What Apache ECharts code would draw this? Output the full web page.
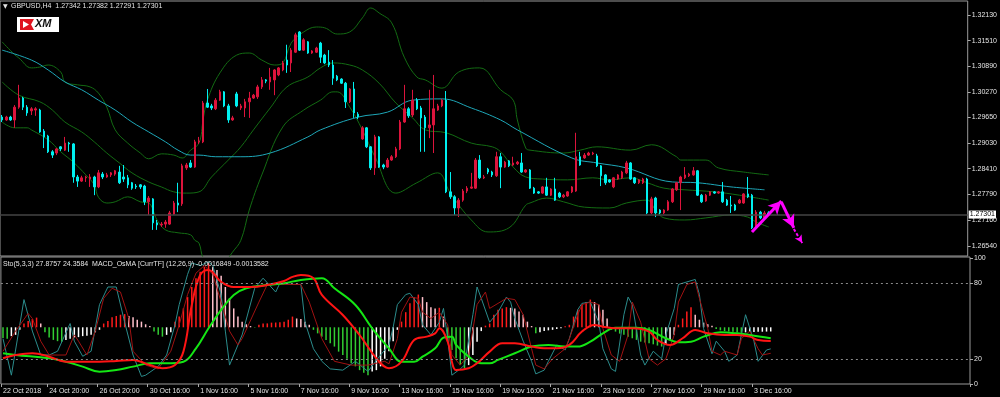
<!DOCTYPE html>
<html>
<head>
<meta charset="utf-8">
<script src="https://cdn.jsdelivr.net/npm/echarts@6/dist/echarts.min.js"></script>
<style>
	html, body { margin: 0; padding: 0; background: #000; }
	#chart { width: 1000px; height: 397px; }
</style>
</head>
<body>
<div id="chart"></div>
<script>
// GBPUSD H4 candles, index 0 = first visible bar
var opens = [
	1.2966, 1.2959, 1.2966, 1.2959, 1.2990, 1.3012, 1.2990, 1.2981, 1.2983, 1.2983,
	1.2932, 1.2920, 1.2882, 1.2879, 1.2894, 1.2886, 1.2903, 1.2901, 1.2821, 1.2811,
	1.2819, 1.2816, 1.2821, 1.2797, 1.2828, 1.2821, 1.2826, 1.2828, 1.2833, 1.2821,
	1.2819, 1.2807, 1.2799, 1.2802, 1.2799, 1.2761, 1.2768, 1.2710, 1.2705, 1.2707,
	1.2707, 1.2731, 1.2758, 1.2756, 1.2843, 1.2855, 1.2845, 1.2906, 1.2906, 1.3000,
	1.2993, 1.2986, 1.3007, 1.3027, 1.2993, 1.2959, 1.3022, 1.2988, 1.2988, 1.3003,
	1.3012, 1.3015, 1.3039, 1.3056, 1.3051, 1.3056, 1.3068, 1.3080, 1.3104, 1.3097,
	1.3123, 1.3172, 1.3128, 1.3148, 1.3121, 1.3123, 1.3145, 1.3116, 1.3099, 1.3092,
	1.3065, 1.3058, 1.3048, 1.3003, 1.3034, 1.2973, 1.2913, 1.2940, 1.2894, 1.2843,
	1.2918, 1.2850, 1.2845, 1.2862, 1.2870, 1.2889, 1.2954, 1.2986, 1.2971, 1.3007,
	1.2988, 1.2966, 1.2940, 1.2947, 1.2983, 1.2993, 1.3007, 1.2785, 1.2773, 1.2746,
	1.2765, 1.2787, 1.2794, 1.2794, 1.2862, 1.2819, 1.2840, 1.2833, 1.2824, 1.2870,
	1.2845, 1.2860, 1.2850, 1.2853, 1.2855, 1.2833, 1.2838, 1.2794, 1.2785, 1.2782,
	1.2797, 1.2777, 1.2792, 1.2782, 1.2773, 1.2775, 1.2785, 1.2787, 1.2870, 1.2867,
	1.2874, 1.2877, 1.2872, 1.2848, 1.2826, 1.2814, 1.2797, 1.2816, 1.2819, 1.2831,
	1.2855, 1.2819, 1.2807, 1.2807, 1.2816, 1.2734, 1.2770, 1.2741, 1.2734, 1.2741,
	1.2761, 1.2790, 1.2807, 1.2819, 1.2824, 1.2826, 1.2836, 1.2777, 1.2763, 1.2777,
	1.2785, 1.2782, 1.2785, 1.2765, 1.2753, 1.2753, 1.2758, 1.2758, 1.2780, 1.2777,
	1.2698, 1.2736, 1.2722, 1.27342
];
var closes = [
	1.2959, 1.2966, 1.2959, 1.2990, 1.3012, 1.2990, 1.2976, 1.2986, 1.2986, 1.2930,
	1.2918, 1.2882, 1.2874, 1.2889, 1.2889, 1.2903, 1.2901, 1.2821, 1.2811, 1.2819,
	1.2821, 1.2821, 1.2797, 1.2831, 1.2821, 1.2826, 1.2831, 1.2836, 1.2807, 1.2816,
	1.2802, 1.2794, 1.2797, 1.2797, 1.2761, 1.2770, 1.2710, 1.2705, 1.2707, 1.2712,
	1.2734, 1.2758, 1.2753, 1.2848, 1.2850, 1.2845, 1.2906, 1.2908, 1.3000, 1.2990,
	1.2988, 1.3007, 1.3027, 1.2993, 1.2959, 1.2964, 1.2993, 1.2993, 1.3003, 1.3012,
	1.3019, 1.3039, 1.3056, 1.3053, 1.3063, 1.3080, 1.3085, 1.3097, 1.3092, 1.3128,
	1.3165, 1.3128, 1.3153, 1.3121, 1.3126, 1.3133, 1.3111, 1.3097, 1.3092, 1.3060,
	1.3056, 1.3048, 1.3003, 1.3034, 1.2976, 1.2966, 1.2940, 1.2894, 1.2843, 1.2918,
	1.2845, 1.2845, 1.2862, 1.2870, 1.2889, 1.2954, 1.2986, 1.2969, 1.3007, 1.2986,
	1.2964, 1.2940, 1.2947, 1.2986, 1.2993, 1.3007, 1.2785, 1.2773, 1.2746, 1.2765,
	1.2787, 1.2794, 1.2797, 1.2862, 1.2819, 1.2821, 1.2833, 1.2826, 1.2870, 1.2845,
	1.2857, 1.2848, 1.2855, 1.2857, 1.2833, 1.2838, 1.2794, 1.2782, 1.2782, 1.2797,
	1.2777, 1.2792, 1.2765, 1.2773, 1.2777, 1.2785, 1.2797, 1.2870, 1.2850, 1.2874,
	1.2879, 1.2879, 1.2848, 1.2824, 1.2807, 1.2809, 1.2819, 1.2826, 1.2833, 1.2855,
	1.2816, 1.2807, 1.2814, 1.2816, 1.2734, 1.2768, 1.2734, 1.2734, 1.2741, 1.2761,
	1.2792, 1.2807, 1.2821, 1.2826, 1.2828, 1.2836, 1.2777, 1.2761, 1.2777, 1.2785,
	1.2782, 1.2785, 1.2761, 1.2753, 1.2751, 1.2741, 1.2765, 1.2780, 1.2773, 1.2698,
	1.2736, 1.2722, 1.2734, 1.27301
];
var lows = [
	1.2954, 1.2957, 1.2957, 1.2940, 1.2986, 1.2983, 1.2969, 1.2971, 1.2969, 1.2928,
	1.2891, 1.2879, 1.2867, 1.2874, 1.2884, 1.2884, 1.2882, 1.2807, 1.2797, 1.2809,
	1.2809, 1.2797, 1.2777, 1.2794, 1.2816, 1.2819, 1.2821, 1.2824, 1.2804, 1.2809,
	1.2794, 1.2790, 1.2792, 1.2792, 1.2753, 1.2729, 1.2693, 1.2693, 1.2700, 1.2698,
	1.2705, 1.2729, 1.2736, 1.2751, 1.2838, 1.2843, 1.2843, 1.2901, 1.2903, 1.2988,
	1.2983, 1.2983, 1.3005, 1.2990, 1.2952, 1.2957, 1.2990, 1.2983, 1.2966, 1.2964,
	1.3010, 1.3010, 1.3034, 1.3048, 1.3032, 1.3019, 1.3065, 1.3077, 1.3073, 1.3075,
	1.3121, 1.3126, 1.3126, 1.3119, 1.3119, 1.3121, 1.3097, 1.3094, 1.3087, 1.3044,
	1.3053, 1.3046, 1.2988, 1.3000, 1.2964, 1.2961, 1.2911, 1.2891, 1.2838, 1.2826,
	1.2843, 1.2840, 1.2843, 1.2860, 1.2867, 1.2886, 1.2952, 1.2964, 1.2966, 1.2983,
	1.2882, 1.2882, 1.2915, 1.2879, 1.2981, 1.2990, 1.2782, 1.2768, 1.2729, 1.2724,
	1.2761, 1.2782, 1.2792, 1.2792, 1.2816, 1.2816, 1.2828, 1.2821, 1.2821, 1.2794,
	1.2843, 1.2845, 1.2848, 1.2850, 1.2831, 1.2831, 1.2792, 1.2780, 1.2780, 1.2780,
	1.2775, 1.2775, 1.2763, 1.2770, 1.2770, 1.2773, 1.2782, 1.2785, 1.2848, 1.2865,
	1.2872, 1.2874, 1.2845, 1.2799, 1.2802, 1.2807, 1.2794, 1.2814, 1.2816, 1.2828,
	1.2814, 1.2804, 1.2804, 1.2804, 1.2731, 1.2731, 1.2724, 1.2731, 1.2731, 1.2739,
	1.2758, 1.2787, 1.2741, 1.2816, 1.2821, 1.2824, 1.2775, 1.2758, 1.2761, 1.2775,
	1.2780, 1.2780, 1.2758, 1.2751, 1.2734, 1.2739, 1.2756, 1.2756, 1.2770, 1.2695,
	1.2695, 1.2719, 1.2719, 1.27291
];
var highs = [
	1.2971, 1.2969, 1.2969, 1.2995, 1.3044, 1.3015, 1.2995, 1.2990, 1.2990, 1.2986,
	1.2937, 1.2923, 1.2886, 1.2891, 1.2896, 1.2918, 1.2906, 1.2903, 1.2826, 1.2824,
	1.2824, 1.2828, 1.2824, 1.2838, 1.2833, 1.2831, 1.2833, 1.2838, 1.2848, 1.2850,
	1.2826, 1.2809, 1.2804, 1.2804, 1.2802, 1.2775, 1.2770, 1.2717, 1.2712, 1.2717,
	1.2739, 1.2763, 1.2807, 1.2853, 1.2855, 1.2862, 1.2911, 1.2918, 1.3005, 1.3034,
	1.2998, 1.3012, 1.3032, 1.3029, 1.2998, 1.2969, 1.3027, 1.2998, 1.3010, 1.3027,
	1.3022, 1.3044, 1.3063, 1.3058, 1.3085, 1.3082, 1.3087, 1.3102, 1.3141, 1.3133,
	1.3170, 1.3174, 1.3157, 1.3150, 1.3128, 1.3136, 1.3148, 1.3119, 1.3128, 1.3104,
	1.3068, 1.3060, 1.3051, 1.3036, 1.3051, 1.2978, 1.2944, 1.2942, 1.2896, 1.2923,
	1.2920, 1.2853, 1.2867, 1.2874, 1.2894, 1.2959, 1.3044, 1.2990, 1.3032, 1.3012,
	1.2993, 1.2971, 1.3032, 1.3068, 1.2998, 1.3010, 1.3029, 1.2833, 1.2777, 1.2770,
	1.2792, 1.2799, 1.2831, 1.2867, 1.2874, 1.2826, 1.2843, 1.2836, 1.2882, 1.2879,
	1.2860, 1.2862, 1.2870, 1.2860, 1.2879, 1.2840, 1.2840, 1.2797, 1.2787, 1.2799,
	1.2819, 1.2794, 1.2819, 1.2785, 1.2780, 1.2787, 1.2799, 1.2928, 1.2882, 1.2879,
	1.2882, 1.2882, 1.2877, 1.2850, 1.2828, 1.2816, 1.2821, 1.2828, 1.2836, 1.2860,
	1.2857, 1.2821, 1.2816, 1.2819, 1.2819, 1.2773, 1.2773, 1.2743, 1.2743, 1.2765,
	1.2794, 1.2809, 1.2824, 1.2845, 1.2831, 1.2845, 1.2838, 1.2780, 1.2780, 1.2787,
	1.2787, 1.2787, 1.2809, 1.2768, 1.2775, 1.2756, 1.2768, 1.2782, 1.2821, 1.2780,
	1.2741, 1.2739, 1.2739, 1.27382
];

// overlays: [bar index, price]
var maPts = [[0, 1.3128], [7, 1.3104], [11, 1.3080], [15, 1.3051], [19, 1.3032], [23, 1.3007], [27, 1.2983], [31, 1.2954], [35, 1.2930], [39, 1.2906], [42, 1.2886], [45, 1.2874], [47, 1.2874], [51, 1.2870], [57, 1.2870], [64, 1.2879], [73, 1.2918], [76, 1.2935], [85, 1.2966], [92, 1.2978], [98, 1.3007], [105, 1.3010], [112, 1.2988], [119, 1.2959], [123, 1.2935], [136, 1.2867], [142, 1.2855], [149, 1.2843], [160, 1.2809], [166, 1.2807], [174, 1.2797], [182, 1.2790]];
var bbUpper = [[0, 1.3148], [3, 1.3117], [4, 1.3109], [7, 1.3085], [9, 1.3087], [11, 1.3092], [14, 1.3075], [15, 1.3051], [18, 1.3044], [21, 1.3039], [23, 1.3024], [25, 1.2990], [27, 1.2935], [30, 1.2903], [33, 1.2879], [35, 1.2865], [38, 1.2877], [41, 1.2874], [43, 1.2867], [45, 1.2886], [47, 1.2903], [48, 1.2961], [49, 1.3007], [52, 1.3073], [56, 1.3116], [59, 1.3121], [62, 1.3104], [65, 1.3092], [67, 1.3097], [69, 1.3145], [72, 1.3172], [75, 1.3184], [77, 1.3182], [80, 1.3167], [83, 1.3172], [86, 1.3206], [88, 1.3230], [90, 1.3218], [93, 1.3194], [96, 1.3111], [99, 1.3063], [101, 1.3056], [105, 1.3036], [109, 1.3075], [114, 1.3085], [119, 1.3032], [122, 1.3007], [123, 1.2959], [125, 1.2891], [126, 1.2886], [134, 1.2879], [138, 1.2886], [142, 1.2894], [150, 1.2886], [155, 1.2899], [161, 1.2870], [162, 1.2862], [168, 1.2862], [171, 1.2843], [177, 1.2833], [183, 1.2826]];
var bbMiddle = [[0, 1.3051], [4, 1.3019], [9, 1.3003], [12, 1.2983], [15, 1.2954], [19, 1.2930], [22, 1.2906], [25, 1.2879], [28, 1.2855], [31, 1.2831], [35, 1.2809], [38, 1.2797], [41, 1.2785], [44, 1.2782], [47, 1.2785], [50, 1.2821], [54, 1.2862], [57, 1.2894], [60, 1.2935], [64, 1.2988], [68, 1.3039], [73, 1.3063], [76, 1.3085], [79, 1.3097], [83, 1.3092], [86, 1.3080], [90, 1.3048], [94, 1.3000], [98, 1.2964], [101, 1.2935], [106, 1.2928], [112, 1.2903], [117, 1.2894], [119, 1.2882], [122, 1.2845], [125, 1.2821], [129, 1.2816], [135, 1.2814], [141, 1.2819], [145, 1.2814], [150, 1.2819], [154, 1.2807], [158, 1.2794], [163, 1.2790], [170, 1.2785], [176, 1.2777], [183, 1.2765]];
var bbLower = [[0, 1.2954], [3, 1.2940], [6, 1.2940], [7, 1.2935], [11, 1.2911], [14, 1.2882], [17, 1.2857], [20, 1.2826], [22, 1.2802], [23, 1.2772], [25, 1.2758], [27, 1.2761], [30, 1.2773], [33, 1.2761], [35, 1.2758], [37, 1.2717], [39, 1.2693], [42, 1.2686], [45, 1.2681], [46, 1.2668], [47, 1.2661], [48, 1.2625], [50, 1.2601], [52, 1.2601], [54, 1.2625], [55, 1.2639], [57, 1.2668], [59, 1.2741], [62, 1.2826], [67, 1.2942], [72, 1.2983], [76, 1.3007], [79, 1.3027], [80, 1.3027], [83, 1.2990], [86, 1.2935], [89, 1.2870], [94, 1.2782], [99, 1.2807], [104, 1.2831], [107, 1.2782], [112, 1.2717], [116, 1.2688], [121, 1.2698], [125, 1.2753], [126, 1.2758], [130, 1.2770], [134, 1.2761], [139, 1.2748], [145, 1.2746], [149, 1.2758], [154, 1.2765], [156, 1.2741], [158, 1.2722], [163, 1.2717], [168, 1.2722], [174, 1.2729], [178, 1.2724], [180, 1.2712], [183, 1.2700]];

// hand drawn forecast arrows: [from, to]
var arrowUp = [[179, 1.2688], [186, 1.2763]];
var arrowDown = [[186, 1.2761], [189, 1.2698]];
var arrowTail = [[189, 1.2695], [191, 1.2661]];

// lower window
var stochK = [[0, 36], [2, 7], [5, 67], [7, 42], [9, 23], [11, 23], [13, 26], [16, 48], [17, 34], [19, 22], [21, 26], [23, 63], [25, 77], [27, 77], [29, 49], [31, 23], [33, 6], [34, 7], [37, 14], [39, 23], [41, 47], [42, 63], [44, 87], [45, 96], [47, 94], [49, 97], [50, 94], [52, 71], [53, 42], [54, 15], [55, 23], [57, 39], [60, 76], [62, 84], [65, 73], [66, 80], [69, 79], [71, 79], [72, 49], [74, 28], [76, 18], [78, 12], [81, 11], [84, 18], [87, 10], [90, 23], [92, 31], [93, 45], [94, 63], [96, 71], [97, 72], [99, 63], [100, 47], [102, 39], [104, 49], [105, 60], [106, 36], [107, 7], [109, 12], [110, 15], [112, 55], [113, 77], [114, 68], [116, 49], [118, 57], [120, 69], [121, 65], [122, 52], [124, 34], [126, 18], [127, 8], [129, 11], [130, 18], [132, 31], [134, 27], [135, 36], [137, 59], [138, 64], [140, 65], [142, 49], [143, 28], [145, 12], [146, 10], [148, 55], [149, 69], [150, 63], [152, 23], [153, 15], [155, 26], [157, 20], [158, 39], [160, 60], [161, 79], [163, 81], [165, 83], [166, 71], [167, 44], [169, 24], [170, 34], [172, 26], [173, 18], [175, 23], [177, 55], [179, 34], [180, 18], [182, 27], [183, 27.8757]];
var stochD = [[0, 26], [3, 42], [6, 56], [7, 52], [9, 34], [11, 23], [15, 23], [17, 39], [18, 34], [20, 23], [22, 42], [24, 68], [26, 76], [28, 73], [30, 52], [31, 26], [34, 15], [37, 12], [40, 26], [42, 47], [44, 71], [46, 88], [48, 94], [50, 87], [52, 65], [54, 42], [56, 31], [57, 36], [61, 65], [63, 79], [67, 79], [71, 79], [73, 65], [76, 36], [79, 18], [83, 15], [87, 15], [91, 18], [92, 16], [94, 36], [95, 57], [97, 69], [99, 68], [100, 57], [102, 52], [104, 57], [106, 47], [107, 23], [109, 15], [111, 23], [113, 63], [115, 73], [116, 60], [118, 64], [120, 68], [122, 67], [124, 55], [126, 28], [127, 15], [129, 12], [131, 20], [134, 28], [135, 36], [137, 55], [138, 63], [140, 65], [142, 63], [143, 44], [145, 23], [147, 18], [149, 39], [150, 65], [152, 49], [154, 20], [156, 15], [158, 20], [160, 39], [161, 65], [163, 79], [165, 81], [166, 68], [168, 44], [169, 26], [171, 23], [172, 26], [175, 23], [176, 36], [178, 42], [180, 28], [181, 23], [183, 24.3584]];
var macdMain = [[0, -0.00206], [3, -0.0022], [11, -0.00246], [15, -0.00273], [19, -0.00312], [23, -0.00352], [27, -0.00339], [31, -0.00312], [35, -0.00286], [39, -0.00286], [43, -0.00273], [46, -0.00167], [49, -0.00008], [52, 0.00138], [55, 0.00257], [58, 0.0031], [63, 0.00336], [67, 0.0035], [71, 0.00376], [76, 0.0039], [79, 0.0031], [84, 0.00177], [88, -0.00008], [92, -0.00167], [95, -0.00273], [98, -0.00273], [100, -0.00233], [103, -0.00167], [105, -0.00082], [107, -0.00074], [108, -0.0014], [111, -0.00233], [114, -0.00286], [116, -0.00286], [118, -0.00259], [122, -0.00206], [126, -0.00153], [130, -0.0014], [134, -0.00153], [137, -0.00153], [140, -0.00114], [143, -0.00048], [146, -0.00003], [151, -0.00003], [154, -0.00021], [158, -0.00087], [161, -0.00119], [164, -0.00114], [167, -0.00074], [171, -0.0004], [175, -0.00048], [178, -0.00061], [183, -0.00087]];
var macdSignal = [[0, -0.00246], [3, -0.0022], [7, -0.00206], [11, -0.00233], [15, -0.00273], [19, -0.00273], [23, -0.00273], [27, -0.00267], [31, -0.00259], [35, -0.00299], [38, -0.00325], [41, -0.00299], [43, -0.00193], [45, 0.00177], [47, 0.00415], [49, 0.00455], [52, 0.0036], [55, 0.0032], [59, 0.0032], [63, 0.00336], [67, 0.00368], [69, 0.004], [71, 0.00415], [74, 0.0039], [76, 0.00257], [81, 0.00098], [85, -0.00061], [89, -0.00246], [92, -0.00325], [95, -0.00273], [98, -0.00101], [101, -0.00074], [103, -0.00048], [104, -0.00008], [106, -0.00114], [107, -0.00273], [108, -0.00339], [111, -0.00325], [113, -0.00286], [116, -0.00193], [119, -0.00127], [122, -0.00127], [126, -0.00153], [129, -0.00167], [132, -0.00167], [135, -0.0014], [138, -0.00034], [141, 0.00019], [143, 0.00005], [146, -0.00008], [150, -0.00008], [154, -0.00034], [156, -0.00101], [159, -0.0014], [162, -0.00087], [165, -0.00021], [168, -0.00048], [172, -0.00061], [175, -0.00061], [178, -0.00074], [180, -0.00101], [183, -0.00108]];
var osma = [
	-0.00085, -0.0009, -0.0007, -0.0006, -0.0002, 0.0003, 0.0005, 0.00066, 0.00077, 0.0003,
	-0.0004, -0.0008, -0.001, -0.0011, -0.00115, -0.001, -0.0009, -0.0008, -0.00078, -0.0007,
	-0.00068, -0.0006, -0.0004, -0.0002, 0.0003, 0.0005, 0.0008, 0.0009, 0.001, 0.00105,
	0.0009, 0.0008, 0.0006, 0.00045, 0.00024, 0.0001, -0.00034, -0.0006, -0.00074, -0.0006,
	-0.0004, 0.00045, 0.00085, 0.0015, 0.0024, 0.0032, 0.0039, 0.0044, 0.0048, 0.0051,
	0.0048, 0.00455, 0.0041, 0.0032, 0.0023, 0.0015, 0.00085, 0.00045, 0.00024, 0.0001,
	-0.00003, 0.0002, 0.0003, 0.00031, 0.00037, 0.00038, 0.0004, 0.00045, 0.0006, 0.00085,
	0.0007, 0.00066, 0.00045, 0.0002, -0.0002, -0.00048, -0.00074, -0.001, -0.00127, -0.00153,
	-0.00193, -0.0022, -0.0025, -0.00286, -0.0031, -0.0034, -0.0036, -0.0038, -0.0035, -0.0034,
	-0.0031, -0.0025, -0.0019, -0.0011, -0.0002, 0.00045, 0.0012, 0.0019, 0.0024, 0.0026,
	0.0024, 0.002, 0.0016, 0.0015, 0.00155, 0.00085, -0.00114, -0.0018, -0.00246, -0.003,
	-0.00325, -0.003, -0.0022, -0.00114, -0.0003, 0.00013, 0.0003, 0.001, 0.0014, 0.0015,
	0.0016, 0.00155, 0.0015, 0.00125, 0.001, 0.00045, 0.0001, -0.00048, -0.0004, -0.0003,
	-0.00024, -0.0002, -0.00013, -0.00008, 0.00008, 0.0002, 0.00085, 0.0014, 0.0018, 0.002,
	0.0022, 0.002, 0.0018, 0.0014, 0.0007, -0.0002, -0.00034, -0.0005, -0.0006, -0.00074,
	-0.00087, -0.001, -0.00114, -0.0012, -0.00127, -0.00135, -0.00145, -0.00153, -0.00135, -0.001,
	-0.0006, 0.0002, 0.0007, 0.00125, 0.0016, 0.001, 0.0006, 0.00037, 0.00024, 0.00013,
	-0.00013, -0.00024, -0.0003, -0.00034, -0.00036, -0.0004, -0.00042, -0.0004, -0.00038, -0.00037,
	-0.00036, -0.00035, -0.00034, -0.00033
];

var priceTicks = [1.26540, 1.27160, 1.27790, 1.28410, 1.29030, 1.29650, 1.30270, 1.30890, 1.31510, 1.32130];
var stochTicks = [0, 20, 80, 100];
var timeLabels = ['22 Oct 2018', '24 Oct 20:00', '26 Oct 20:00', '30 Oct 16:00', '1 Nov 16:00', '5 Nov 16:00',
	'7 Nov 16:00', '9 Nov 16:00', '13 Nov 16:00', '15 Nov 16:00', '19 Nov 16:00', '21 Nov 16:00',
	'23 Nov 16:00', '27 Nov 16:00', '29 Nov 16:00', '3 Dec 16:00'];

var SLOTS = 231; // bars + empty shift area on the right
var cats = [];
for (var i = 0; i < SLOTS; i++) cats.push(String(i));

// first label sits on bar 0, the rest every 12 bars from bar 11
var labelAt = {};
timeLabels.forEach(function (t, k) {
	labelAt[k === 0 ? 0 : 11 + 12 * (k - 1)] = t;
});
function hasLabel(index) { return labelAt[index] !== undefined; }

var lastPrice = closes[closes.length - 1];
var FONT = 'Liberation Sans';
var TXT = '#e4e4e4';

var candleData = opens.map(function (o, i) {
	return [o, closes[i], lows[i], highs[i]];
});

var osmaData = osma.map(function (v, i) {
	var prev = i === 0 ? 0 : osma[i - 1];
	var c;
	if (v >= 0) c = v >= prev ? '#ff1a1a' : '#ffc0cb';
	else c = v < prev ? '#32cd32' : '#ffffff';
	return { value: v, itemStyle: { color: c } };
});

function arrowLine(pts, width, head, dashed) {
	return [
		{ coord: pts[0], symbol: 'none', lineStyle: { color: '#ff00ff', width: width, type: dashed ? [3, 2] : 'solid' } },
		{ coord: pts[1], symbol: 'arrow', symbolSize: head }
	];
}

function plainLine(name, pts, color, xi, yi, width, smooth) {
	return {
		name: name,
		type: 'line',
		xAxisIndex: xi,
		yAxisIndex: yi,
		data: pts,
		symbol: 'none',
		smooth: smooth,
		clip: true,
		lineStyle: { color: color, width: width },
		z: 3
	};
}

// bid line across the price window, with the price box on the axis
var bbMid = plainLine('BB middle', bbMiddle, '#136b13', 0, 0, 1, 0.4);
bbMid.markLine = {
	silent: true,
	symbol: 'none',
	animation: false,
	precision: 5,
	lineStyle: { color: '#444', width: 1.5, type: 'solid' },
	label: {
		show: true,
		position: 'end',
		distance: 1,
		formatter: lastPrice.toFixed(5),
		backgroundColor: '#fff',
		color: '#000',
		fontSize: 7,
		fontFamily: FONT,
		padding: [1, 1, 0, 1]
	},
	data: [{ yAxis: lastPrice }]
};

var myChart = echarts.init(document.getElementById('chart'));

var option = {
	backgroundColor: '#000',
	animation: false,
	grid: [
		{ left: 0, right: 30, top: 1, height: 255, show: true, backgroundColor: '#000', borderColor: '#9a9a9a', borderWidth: 1 },
		{ left: 0, right: 30, top: 257, height: 127, show: true, backgroundColor: '#000', borderColor: '#9a9a9a', borderWidth: 1 }
	],
	xAxis: [
		{ type: 'category', gridIndex: 0, data: cats, boundaryGap: true, show: false },
		{
			type: 'category', gridIndex: 1, data: cats, boundaryGap: true,
			axisLine: { show: false },
			axisTick: { show: true, length: 3, interval: hasLabel, lineStyle: { color: '#aaa' } },
			axisLabel: {
				interval: hasLabel,
				formatter: function (v, index) { return labelAt[index] || ''; },
				align: 'left',
				margin: 4,
				color: TXT,
				fontSize: 7,
				fontFamily: FONT
			},
			splitLine: { show: false }
		}
	],
	yAxis: [
		{
			type: 'value', gridIndex: 0, position: 'right',
			min: 1.26298, max: 1.32469,
			axisLine: { show: false },
			axisTick: { show: true, length: 3, customValues: priceTicks, lineStyle: { color: '#aaa' } },
			axisLabel: {
				customValues: priceTicks,
				formatter: function (v) { return v.toFixed(5); },
				color: TXT, fontSize: 7, fontFamily: FONT, margin: 4
			},
			splitLine: { show: false }
		},
		{
			type: 'value', gridIndex: 1, position: 'right',
			min: 0, max: 100.8,
			axisLine: { show: false },
			axisTick: { show: true, length: 3, customValues: stochTicks, lineStyle: { color: '#aaa' } },
			axisLabel: { customValues: stochTicks, color: TXT, fontSize: 7, fontFamily: FONT, margin: 4 },
			splitLine: { show: false }
		},
		{
			type: 'value', gridIndex: 1, show: false,
			min: -0.0045, max: 0.00558,
			splitLine: { show: false }
		}
	],
	series: [
		plainLine('BB upper', bbUpper, '#136b13', 0, 0, 1, 0.4),
		bbMid,
		plainLine('BB lower', bbLower, '#136b13', 0, 0, 1, 0.4),
		{
			name: 'MA',
			type: 'line',
			xAxisIndex: 0,
			yAxisIndex: 0,
			data: maPts,
			symbol: 'none',
			smooth: 0.4,
			lineStyle: { color: '#1ea7b8', width: 1 },
			z: 3,
			markLine: {
				silent: true,
				animation: false,
				precision: 5,
				label: { show: false },
				data: [
					arrowLine(arrowUp, 3, [10, 13], false),
					arrowLine(arrowDown, 3, [10, 13], false),
					arrowLine(arrowTail, 2, [6, 8], true)
				]
			}
		},
		{
			name: 'GBPUSD',
			type: 'candlestick',
			xAxisIndex: 0,
			yAxisIndex: 0,
			data: candleData,
			barWidth: 2,
			z: 4,
			itemStyle: {
				color: '#dc143c',
				color0: '#00f0f0',
				borderColor: '#dc143c',
				borderColor0: '#00f0f0',
				borderWidth: 1
			}
		},
		{
			name: 'OsMA',
			type: 'bar',
			xAxisIndex: 1,
			yAxisIndex: 2,
			data: osmaData,
			barWidth: 1.5,
			z: 2
		},
		{
			name: 'Sto main',
			type: 'line',
			xAxisIndex: 1,
			yAxisIndex: 1,
			data: stochK,
			symbol: 'none',
			lineStyle: { color: '#2b8c8c', width: 1 },
			z: 3,
			markLine: {
				silent: true,
				symbol: 'none',
				animation: false,
				label: { show: false },
				lineStyle: { color: '#8a8a8a', width: 1, type: [2, 3] },
				data: [{ yAxis: 80 }, { yAxis: 20 }]
			}
		},
		plainLine('Sto signal', stochD, '#a01212', 1, 1, 1, false),
		plainLine('MACD', macdMain, '#14e614', 1, 2, 2, 0.4),
		plainLine('Signal', macdSignal, '#ff1414', 1, 2, 2, 0.4)
	],
	graphic: [
		{ type: 'text', z: 100, style: { text: '\u25BC', x: 3, y: 6, fill: TXT, fontSize: 6, fontFamily: 'DejaVu Sans', verticalAlign: 'middle' } },
		{ type: 'text', z: 100, style: { text: 'GBPUSD,H4  1.27342 1.27382 1.27291 1.27301', x: 11, y: 6, fill: TXT, fontSize: 7, fontFamily: FONT, verticalAlign: 'middle' } },
		{ type: 'text', z: 100, style: { text: 'Sto(5,3,3) 27.8757 24.3584  MACD_OsMA [CurrTF] (12,26,9) -0.0016849 -0.0013582', x: 3, y: 264, fill: TXT, fontSize: 7, fontFamily: FONT, verticalAlign: 'middle' } },
		{ type: 'rect', z: 100, shape: { x: 17, y: 17, width: 42, height: 15 }, style: { fill: '#fff' } },
		{ type: 'polygon', z: 101, shape: { points: [[20, 19], [34, 19], [31, 24.5], [34, 30], [20, 30]] }, style: { fill: '#e0141e' } },
		{ type: 'polygon', z: 102, shape: { points: [[23, 21], [29, 24.5], [23, 28]] }, style: { fill: '#fff' } },
		{ type: 'text', z: 101, style: { text: 'XM', x: 35, y: 24, fill: '#111', fontSize: 11, fontWeight: 'bold', fontStyle: 'italic', fontFamily: FONT, verticalAlign: 'middle' } }
	]
};

myChart.setOption(option);
</script>
</body>
</html>
